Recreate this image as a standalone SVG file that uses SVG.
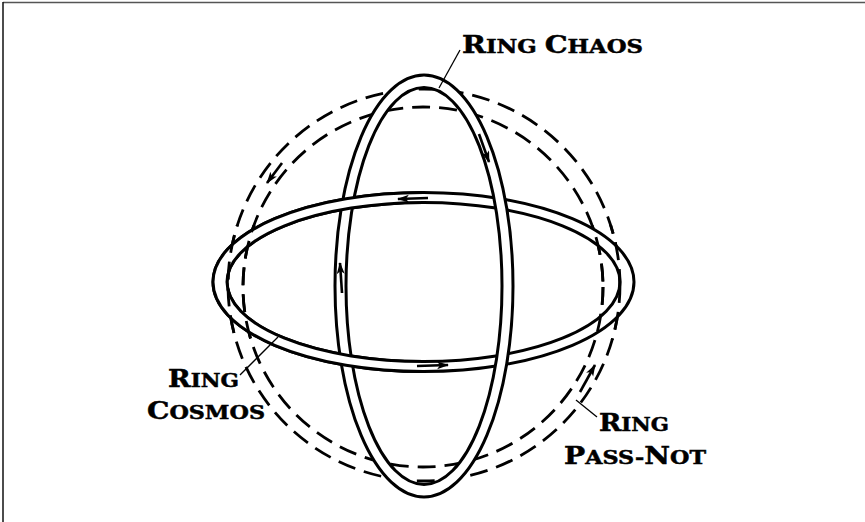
<svg xmlns="http://www.w3.org/2000/svg" width="865" height="522" viewBox="0 0 865 522">
<defs>
<clipPath id="leftHalf"><rect x="0" y="0" width="424" height="522"/></clipPath>
<clipPath id="tips"><rect x="200" y="225" width="56" height="115"/><rect x="592" y="225" width="40" height="115"/></clipPath>
<marker id="ah" markerWidth="14" markerHeight="10" refX="11" refY="4" orient="auto" markerUnits="userSpaceOnUse"><path d="M0 0L12 4L0 8L3 4Z" fill="#000"/></marker>
</defs>
<style>
.dash{fill:none;stroke:#000;stroke-width:2.8;stroke-dasharray:18 9}
.band{fill:#fff;fill-rule:evenodd;stroke:#000;stroke-width:3}
.lead{fill:none;stroke:#000;stroke-width:1.3}
.arr{fill:none;stroke:#000;stroke-width:2.6}
text{font-family:"DejaVu Serif","Liberation Serif",serif;font-weight:700;font-size:19px;fill:#000;stroke:#000;stroke-width:.5}
.c{font-size:24px}
</style>
<rect x="0" y="0" width="865" height="522" fill="#fff"/>
<path d="M865 2.500H3" fill="none" stroke="#555" stroke-width="1.600"/>
<path d="M3 2V522" fill="none" stroke="#111" stroke-width="1.500"/>
<g id="ring-pass-not">
<circle class="dash" cx="424" cy="285" r="196"/>
<circle class="dash" cx="423" cy="287" r="180"/>
</g>
<g id="ring-cosmos-back">
<path class="band" d="M213 282A210.500 89.500 0 1 0 634 282A210.500 89.500 0 1 0 213 282ZM227 282A196.500 79.500 0 1 0 620 282A196.500 79.500 0 1 0 227 282Z"/>
</g>
<g id="ring-chaos">
<path class="band" d="M335 286A89 211 0 1 0 513 286A89 211 0 1 0 335 286ZM346 286A78 198.500 0 1 0 502 286A78 198.500 0 1 0 346 286Z"/>
</g>
<g id="ring-cosmos" clip-path="url(#leftHalf)">
<path class="band" d="M213 282A210.500 89.500 0 1 0 634 282A210.500 89.500 0 1 0 213 282ZM227 282A196.500 79.500 0 1 0 620 282A196.500 79.500 0 1 0 227 282Z"/>
</g>
<g id="ring-pass-not-over" clip-path="url(#tips)">
<circle class="dash" cx="424" cy="285" r="196"/>
<circle class="dash" cx="423" cy="287" r="180"/>
</g>
<g id="connectors">
<path class="lead" d="M460 50L439 88"/>
<path class="lead" d="M240 375L278 337"/>
<path class="lead" d="M576 400L597 417"/>
<path class="arr" marker-end="url(#ah)" d="M479 134L489 162"/>
<path class="arr" marker-end="url(#ah)" d="M428 198L398 199"/>
<path class="arr" marker-end="url(#ah)" d="M342 293L340 263"/>
<path class="arr" marker-end="url(#ah)" d="M417 366L448 365"/>
<path class="arr" marker-end="url(#ah)" d="M282 163L267 183"/>
<path class="arr" marker-end="url(#ah)" d="M580 392L595 365"/>
</g>
<g id="label-chaos"><text x="462" y="53" textLength="181" lengthAdjust="spacingAndGlyphs"><tspan class="c">R</tspan>ING <tspan class="c">C</tspan>HAOS</text></g>
<g id="label-cosmos"><text x="168" y="387" textLength="71" lengthAdjust="spacingAndGlyphs"><tspan class="c">R</tspan>ING</text><text x="147" y="419" textLength="118" lengthAdjust="spacingAndGlyphs"><tspan class="c">C</tspan>OSMOS</text></g>
<g id="label-pass-not"><text x="599" y="431" textLength="70" lengthAdjust="spacingAndGlyphs"><tspan class="c">R</tspan>ING</text><text x="564" y="464" textLength="142" lengthAdjust="spacingAndGlyphs"><tspan class="c">P</tspan>ASS-<tspan class="c">N</tspan>OT</text></g>
</svg>
